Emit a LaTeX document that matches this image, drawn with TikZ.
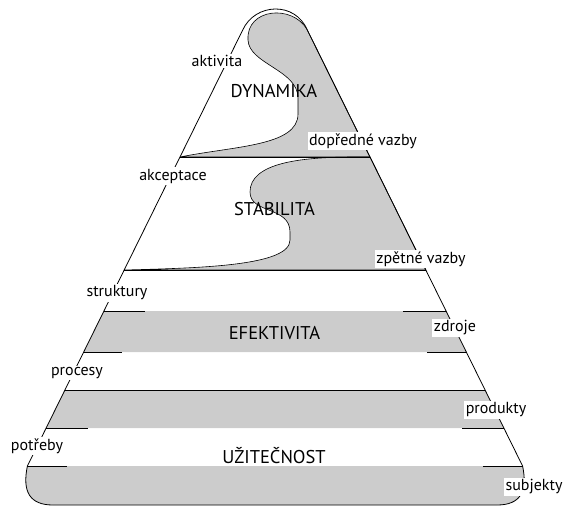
\documentclass[tikz,border=0pt]{standalone}
\usepackage{fontspec}
\setmainfont{PT Sans}
\begin{document}
\begin{tikzpicture}[x=1pt,y=-1pt,
  edge/.style={line width=0.8pt, black},
  band/.style={fill=black!20},
  lab/.style={fill=white, inner sep=1.5pt, font=\fontsize{16}{18}\selectfont},
  title/.style={inner sep=1pt, font=\fontsize{18.5}{21}\selectfont}]
\useasboundingbox (0,0) rectangle (565,506);
% pyramid corner coordinates
\coordinate (L30) at (242.7,30);  \coordinate (R30) at (307.3,30);
\coordinate (L157) at (180,157);  \coordinate (R157) at (370,157);
\coordinate (L270) at (124.2,270); \coordinate (R270) at (425.8,270);
\coordinate (L311) at (103.9,311); \coordinate (R311) at (446.1,311);
\coordinate (L352) at (83.7,352);  \coordinate (R352) at (466.3,352);
\coordinate (L390) at (64.9,390);  \coordinate (R390) at (485.1,390);
\coordinate (L428) at (46.1,428);  \coordinate (R428) at (503.9,428);
\coordinate (L466) at (27.4,466);  \coordinate (R466) at (522.6,466);
% grey regions
\filldraw[band, draw=black, line width=0.6pt] (L157) .. controls (235,146) and (298,146) .. (298,114) -- (298,98)
  .. controls (298,70) and (249,64) .. (248,40) .. controls (246,8) and (293,4) .. (R30) -- (R157) -- cycle;
\filldraw[band, draw=black, line width=0.6pt] (355,157) .. controls (300,157) and (250,163) .. (250,192)
  .. controls (250,214) and (290,206) .. (290,232) -- (290,240)
  .. controls (290,266) and (200,268) .. (L270) -- (R270) -- (R157) -- cycle;
\fill[band] (L311) -- (R311) -- (R352) -- (L352) -- cycle;
\fill[band] (L390) -- (R390) -- (R428) -- (L428) -- cycle;
\fill[band] (L466) -- (R466) .. controls (528,492) and (520,505) .. (497,505) -- (53,505)
  .. controls (30,505) and (22,492) .. (L466) -- cycle;
% outline
\draw[edge] (L466) -- (L30) .. controls (255,3) and (295,1) .. (R30) -- (R466)
  .. controls (528,492) and (520,505) .. (497,505) -- (53,505) .. controls (30,505) and (22,492) .. cycle;
% horizontal lines
\draw[edge, line width=1pt] (L157) -- (R157);
\draw[edge, line width=1pt] (L270) -- (R270);
\draw[edge] (L311) -- (145,311);  \draw[edge] (403,311) -- (R311);
\draw[edge] (L352) -- (122,352);  \draw[edge] (427,352) -- (R352);
\draw[edge] (L390) -- (R390);
\draw[edge] (L428) -- (88,428);   \draw[edge] (462,428) -- (R428);
\draw[edge] (L466) -- (67,466);   \draw[edge] (483,466) -- (R466);
% labels
\node[lab] (aktivita) at (217,61) {aktivita};
\node[title] (dyn) at (274,91) {DYNAMIKA};
\node[lab] (dopr) at (363,141) {dopředné vazby};
\node[lab] (akc) at (173,176) {akceptace};
\node[title] (stab) at (274.5,209) {STABILITA};
\node[lab] (zpet) at (421,259) {zpětné vazby};
\node[lab] (strukt) at (117,293) {struktury};
\node[title, fill=black!20] (efek) at (274.5,333) {EFEKTIVITA};
\node[lab] (zdroje) at (455,328) {zdroje};
\node[lab] (proc) at (77,373) {procesy};
\node[lab] (prod) at (496,410) {produkty};
\node[lab] (potr) at (37,446) {potřeby};
\node[title] (uzit) at (274,456) {UŽITEČNOST};
\node[lab] (subj) at (534,487) {subjekty};
\end{tikzpicture}
\end{document}
